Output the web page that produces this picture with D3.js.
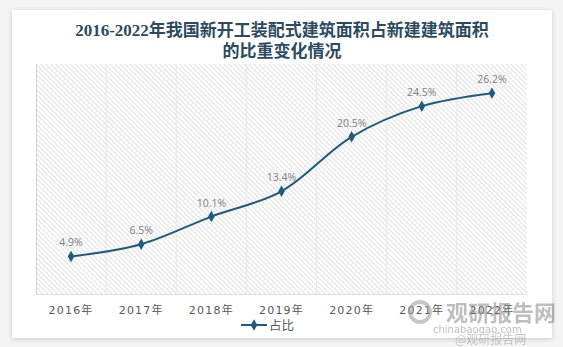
<!DOCTYPE html>
<html><head><meta charset="utf-8">
<script src="https://cdn.jsdelivr.net/npm/d3@7/dist/d3.min.js"></script>
<style>
html,body{margin:0;padding:0;background:#f4f4f4;}
svg{display:block;}
</style></head>
<body>
<svg id="c" width="563" height="347"></svg>
<script>
const titleLines = ["2016-2022年我国新开工装配式建筑面积占新建建筑面积", "的比重变化情况"];
const categories = ["2016年","2017年","2018年","2019年","2020年","2021年","2022年"];
const values = [4.9, 6.5, 10.1, 13.4, 20.5, 24.5, 26.2];
const seriesName = "占比";
const yDomain = [0, 30];

const svg = d3.select("#c");
const defs = svg.append("defs");
const f = defs.append("filter").attr("id","sh").attr("x","-5%").attr("y","-5%").attr("width","110%").attr("height","110%");
f.append("feDropShadow").attr("dx",0).attr("dy",1).attr("stdDeviation",2.5).attr("flood-color","#000").attr("flood-opacity",0.18);
const pat = defs.append("pattern").attr("id","hatch").attr("patternUnits","userSpaceOnUse")
  .attr("width",3.5).attr("height",3.5).attr("patternTransform","rotate(-45)");
pat.append("rect").attr("width",3.5).attr("height",3.5).attr("fill","#ffffff");
pat.append("line").attr("x1",1).attr("y1",0).attr("x2",1).attr("y2",3.5).attr("stroke","#e0e0e0").attr("stroke-width",1.1);

// card
svg.append("rect").attr("x",12).attr("y",10).attr("width",540).attr("height",328).attr("fill","#fff").attr("filter","url(#sh)");

// title
const tt = svg.append("text").attr("text-anchor","middle").attr("fill","#2c4b61")
  .attr("font-family","'Liberation Serif','Noto Sans CJK SC',serif").attr("font-weight","bold").attr("font-size",17);
titleLines.forEach((t,i)=>tt.append("tspan").attr("x",282).attr("y",36+i*21).text(t));

const plot = {l:36, r:527, t:64, b:294};
const x = d3.scaleBand().domain(categories).range([plot.l, plot.r]);
const y = d3.scaleLinear().domain(yDomain).range([plot.b, plot.t]);

svg.append("rect").attr("x",plot.l).attr("y",plot.t).attr("width",plot.r-plot.l).attr("height",plot.b-plot.t).attr("fill","url(#hatch)");

// vertical gridlines at band boundaries
const bounds = categories.slice(1).map(c=>x(c));
svg.append("g").selectAll("line").data(bounds).join("line")
  .attr("x1",d=>d).attr("x2",d=>d).attr("y1",plot.t).attr("y2",plot.b)
  .attr("stroke","#e8e8e8").attr("stroke-width",1);
svg.append("line").attr("x1",plot.l+0.5).attr("x2",plot.l+0.5).attr("y1",plot.t).attr("y2",plot.b).attr("stroke","#d4d4d4");
svg.append("line").attr("x1",plot.l).attr("x2",plot.r).attr("y1",plot.b+0.5).attr("y2",plot.b+0.5).attr("stroke","#e0e0e0");

// x axis labels
const xAxis = d3.axisBottom(x).tickSize(0).tickPadding(0);
const gx = svg.append("g").attr("transform",`translate(0,${plot.b})`).call(xAxis);
gx.select(".domain").remove();
gx.selectAll("text").attr("y",20).attr("dy",0).attr("fill","#595959")
  .attr("font-family","'DejaVu Sans','Noto Sans CJK SC',sans-serif").attr("font-size",11).attr("letter-spacing",1.2);

const cx = d=>x(d)+x.bandwidth()/2;
const color = "#1f5b7a";
const line = d3.line().x((d,i)=>cx(categories[i])).y(d=>y(d)).curve(d3.curveCatmullRom.alpha(0.5));
svg.append("path").datum(values).attr("d",line).attr("fill","none").attr("stroke",color).attr("stroke-width",2);

const sym = d3.symbol().type(d3.symbolDiamond).size(38);
svg.append("g").selectAll("path").data(values).join("path")
  .attr("d",sym).attr("transform",(d,i)=>`translate(${cx(categories[i])},${y(d)})`).attr("fill",color);

svg.append("g").selectAll("text").data(values).join("text")
  .attr("x",(d,i)=>cx(categories[i])).attr("y",d=>y(d)-10).attr("text-anchor","middle")
  .attr("fill","#808080").attr("font-family","'Open Sans','DejaVu Sans',sans-serif").attr("font-size",10.5)
  .text(d=>d.toFixed(1)+"%");

// legend
const lg = svg.append("g").attr("transform","translate(241,325)");
lg.append("line").attr("x1",0).attr("x2",26).attr("y1",0).attr("y2",0).attr("stroke",color).attr("stroke-width",2);
lg.append("path").attr("d",sym).attr("transform","translate(13,0)").attr("fill",color);
lg.append("text").attr("x",28).attr("y",4.5).attr("fill","#595959").attr("font-family","'Noto Sans CJK SC',sans-serif").attr("font-size",12.5).text(seriesName);

// watermark
const wm = svg.append("g").attr("opacity",0.55);
wm.append("circle").attr("cx",420).attr("cy",312).attr("r",10).attr("fill","none").attr("stroke","#9a9a9a").attr("stroke-width",4);
wm.append("text").attr("x",446).attr("y",321).attr("fill","#8a8a8a").attr("font-family","'Noto Sans CJK SC',sans-serif").attr("font-weight","bold").attr("font-size",22).text("观研报告网");
wm.append("text").attr("x",433).attr("y",333).attr("fill","#8a8a8a").attr("font-family","'DejaVu Sans',sans-serif").attr("font-size",10).text("chinabaogao.com");
wm.append("text").attr("x",455).attr("y",344).attr("fill","#9a9a9a").attr("font-family","'Noto Sans CJK SC',sans-serif").attr("font-size",12).text("@观研报告网");
</script>
</body></html>
